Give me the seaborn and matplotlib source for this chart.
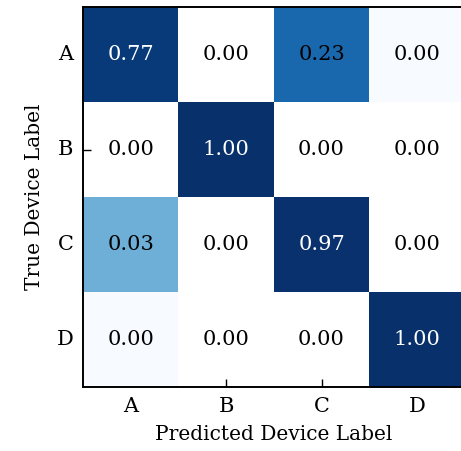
import numpy as np
import matplotlib
matplotlib.use("Agg")
import matplotlib.pyplot as plt
from matplotlib.colors import LogNorm
import seaborn as sns

# Device labels and row-normalised confusion matrix (rows = true, cols = predicted)
labels = ["A", "B", "C", "D"]
row_a = [0.77, 0.0, 0.23, 0.001]
row_b = [0.0, 1.0, 0.0, 0.0]
row_c = [0.03, 0.0, 0.97, 0.0]
row_d = [0.001, 0.0, 0.0, 1.0]

cm = np.array([row_a, row_b, row_c, row_d])

sns.set_style("white")
plt.rcParams["font.family"] = ["DejaVu Serif"]
plt.rcParams["text.color"] = "black"
plt.rcParams["axes.labelcolor"] = "black"
plt.rcParams["xtick.color"] = "black"
plt.rcParams["ytick.color"] = "black"

fig = plt.figure(figsize=(4.61, 4.51), dpi=100)
ax = fig.add_axes([0.18, 0.142, 0.828, 0.842])

sns.heatmap(cm, ax=ax, cmap="Blues", norm=LogNorm(vmin=0.001, vmax=1),
            annot=True, fmt=".2f", cbar=False, square=False,
            xticklabels=labels, yticklabels=labels,
            annot_kws={"fontsize": 15})

# dark cells get white text, the rest black
for t, v in zip(ax.texts, cm.flatten()):
    t.set_color("white" if v > 0.5 else "black")

for side in ["left", "bottom", "top"]:
    ax.spines[side].set_visible(True)
    ax.spines[side].set_linewidth(1.4)
    ax.spines[side].set_color("black")
ax.spines["right"].set_visible(False)

ax.tick_params(direction="in", length=6, width=1, pad=7, labelsize=15,
               left=True, bottom=True, colors="black")
plt.setp(ax.get_yticklabels(), rotation=0)
plt.setp(ax.get_xticklabels(), rotation=0)

ax.set_xlabel("Predicted Device Label", fontsize=14.5, labelpad=7)
ax.set_ylabel("True Device Label", fontsize=14.5, labelpad=9)

fig.savefig("out.png", dpi=100)
